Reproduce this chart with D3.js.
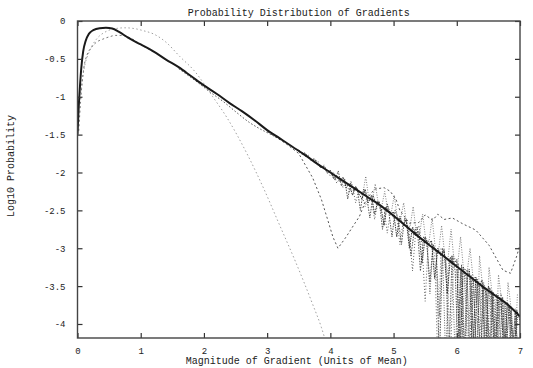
<!DOCTYPE html>
<html>
<head>
<meta charset="utf-8">
<script src="https://cdn.jsdelivr.net/npm/d3@7"></script>
<style>
  body { margin: 0; background: #fff; }
  svg { display: block; }
  text { font-family: "Liberation Mono", "DejaVu Sans Mono", monospace; fill: #222; }
</style>
</head>
<body>
<svg id="chart" width="533" height="368"></svg>
<script>
// values (log10 probability vs gradient magnitude)
const mainX = [0, 0.01, 0.02, 0.03, 0.04, 0.06, 0.09, 0.13, 0.18, 0.25, 0.35, 0.45, 0.55, 0.65, 0.8, 1.0, 1.2, 1.4, 1.6, 1.8, 2.0, 2.2, 2.4, 2.6, 2.8, 3.0, 3.2, 3.4, 3.6, 3.8, 4.0, 4.2, 4.4, 4.6, 4.8, 5.0, 5.2, 5.4, 5.6, 5.8, 6.0, 6.2, 6.4, 6.6, 6.8, 7.0];
const mainY = [-1.5, -1.3, -1.12, -0.98, -0.85, -0.62, -0.4, -0.26, -0.17, -0.12, -0.095, -0.09, -0.1, -0.14, -0.22, -0.31, -0.4, -0.51, -0.61, -0.73, -0.85, -0.96, -1.08, -1.19, -1.31, -1.44, -1.55, -1.66, -1.77, -1.89, -2.0, -2.11, -2.22, -2.33, -2.44, -2.57, -2.71, -2.85, -2.98, -3.11, -3.24, -3.37, -3.5, -3.62, -3.74, -3.9];

// early curve, sits under the peak
const earlyX = [0.02, 0.05, 0.1, 0.15, 0.22, 0.3, 0.4, 0.5, 0.6, 0.7, 0.85, 1.0, 1.2];
const earlyY = [-1.45, -1.05, -0.62, -0.45, -0.35, -0.28, -0.24, -0.21, -0.19, -0.19, -0.23, -0.31, -0.41];

// curve dipping a little below the main one between 2 and 3
const dipX = [1.6, 1.9, 2.1, 2.3, 2.52, 2.72, 2.9, 3.04, 3.2];
const dipY = [-0.63, -0.81, -0.94, -1.06, -1.21, -1.34, -1.43, -1.49, -1.56];

// light gaussian-like curve
const gaussX = [0.05, 0.1, 0.2, 0.3, 0.45, 0.6, 0.75, 0.9, 1.05, 1.2, 1.4, 1.62, 1.85, 2.14, 2.36, 2.68, 2.95, 3.2, 3.45, 3.72, 3.86, 3.95];
const gaussY = [-0.95, -0.65, -0.38, -0.24, -0.14, -0.1, -0.09, -0.1, -0.13, -0.17, -0.28, -0.47, -0.66, -1.0, -1.27, -1.75, -2.22, -2.7, -3.18, -3.74, -4.05, -4.3];

// curve that drops near 4 and swings back up
const swingX = [3.0, 3.3, 3.5, 3.72, 3.86, 3.96, 4.04, 4.12, 4.25, 4.35, 4.46, 4.57, 4.7, 4.85, 4.95, 5.04, 5.1, 5.25, 5.4, 5.5, 5.62, 5.7, 5.8, 5.93, 6.1, 6.3, 6.51, 6.73, 6.85, 6.95, 7.0];
const swingY = [-1.46, -1.62, -1.75, -2.07, -2.36, -2.63, -2.85, -3.0, -2.85, -2.72, -2.58, -2.35, -2.22, -2.2, -2.25, -2.36, -2.5, -2.67, -2.66, -2.56, -2.63, -2.55, -2.62, -2.6, -2.68, -2.76, -2.96, -3.29, -3.33, -3.1, -2.95];

// noisy tails, sampled every 0.05 from 3.5
const noisyStart = 3.5;
const noisyA = [-1.7, -1.76, -1.74, -1.8, -1.83, -1.82, -1.9, -1.93, -1.92, -2.01, -1.97, -2.08, -2.05, -2.12, -2.06, -2.2, -2.15, -2.3, -2.18, -2.28, -2.35, -2.22, -2.4, -2.3, -2.55, -2.38, -2.46, -2.7, -2.42, -2.55, -2.52, -2.85, -2.58, -2.7, -2.62, -3.0, -2.72, -2.8, -2.78, -3.2, -2.85, -2.95, -2.9, -3.4, -3.0, -3.1, -3.02, -3.6, -3.12, -3.2, -3.15, -4.5, -3.25, -3.3, -3.28, -4.5, -3.38, -3.5, -3.42, -4.5, -3.5, -3.6, -4.5, -3.62, -3.7, -4.5, -3.72, -3.85, -4.5, -3.82, -3.95];
const noisyB = [-1.74, -1.73, -1.79, -1.77, -1.85, -1.86, -1.84, -1.95, -1.9, -1.98, -2.05, -1.99, -2.14, -2.08, -2.2, -2.12, -2.26, -2.18, -2.4, -2.24, -2.3, -2.45, -2.33, -2.36, -2.62, -2.4, -2.5, -2.48, -2.8, -2.52, -2.6, -2.58, -2.95, -2.66, -2.62, -2.8, -3.3, -2.78, -2.7, -2.95, -3.7, -2.9, -2.92, -3.1, -4.5, -3.0, -3.05, -3.3, -4.5, -3.1, -3.2, -4.5, -3.25, -3.4, -4.5, -3.35, -3.42, -4.5, -3.48, -3.5, -4.5, -3.55, -3.7, -4.5, -3.6, -4.5, -3.72, -3.8, -4.5, -3.85, -3.9];
// offset by half a step, from 5.525
const noisyCStart = 5.525;
const noisyC = [-2.9, -3.6, -2.95, -3.05, -3.9, -3.05, -4.5, -3.15, -3.1, -4.5, -3.2, -4.5, -3.3, -4.5, -3.35, -4.5, -3.4, -4.5, -3.45, -4.5, -3.52, -4.5, -3.6, -4.5, -3.65, -4.5, -3.75, -4.5, -3.8, -4.5];
// from 4.025
const noisyDStart = 4.025;
const noisyD = [-2.02, -2.1, -1.98, -2.18, -2.08, -2.35, -2.12, -2.25, -2.2, -2.5, -2.22, -2.32, -2.6, -2.3, -2.42, -2.38, -2.75, -2.45, -2.52, -2.85, -2.5, -2.62, -2.95, -2.6, -2.72, -3.1, -2.78, -2.72, -3.3, -2.85, -2.92, -3.45, -2.95, -3.05, -4.5, -3.0, -3.15, -4.5, -3.1, -3.3, -4.5, -3.22, -4.5, -3.3, -3.42, -4.5, -3.45, -4.5, -3.5, -3.62, -4.5, -3.58, -4.5, -3.7, -3.65, -4.5, -3.78, -4.5, -3.85, -4.5];
// from 4.51, mostly spikes upward
const noisyEStart = 4.51;
const noisyE = [-2.3, -2.05, -2.36, -2.38, -2.15, -2.42, -2.46, -2.25, -2.5, -2.55, -2.3, -2.6, -2.62, -2.4, -2.7, -2.72, -2.45, -2.8, -2.82, -2.55, -2.9, -2.92, -2.6, -3.0, -3.05, -2.7, -3.1, -3.15, -2.75, -3.2, -3.25, -2.85, -3.32, -3.35, -3.0, -3.42, -4.5, -3.1, -3.52, -4.5, -3.25, -3.6, -4.5, -3.35, -3.7, -4.5, -3.45, -3.8, -4.5, -3.6];
// dense spikes near the right edge, from 6.0125
const noisyFStart = 6.0125;
const noisyF = [-4.5, -3.3, -4.5, -3.35, -4.5, -3.4, -4.5, -3.5, -4.5, -3.55, -4.5, -3.6, -4.5, -3.68, -4.5, -3.72, -4.5, -3.8, -4.5, -3.88];

const xTicks = [0, 1, 2, 3, 4, 5, 6, 7];
const yTicks = [0, -0.5, -1, -1.5, -2, -2.5, -3, -3.5, -4];

const plotLeft = 77.5, plotRight = 520, plotTop = 21, plotBottom = 338;
const svg = d3.select('#chart');

const x = d3.scaleLinear().domain([0, 7]).range([plotLeft, plotRight]);
const y = d3.scaleLinear().domain([-4.185, 0]).range([plotBottom, plotTop]);

svg.append('defs').append('clipPath').attr('id', 'plot')
  .append('rect').attr('x', plotLeft).attr('y', plotTop)
  .attr('width', plotRight - plotLeft).attr('height', plotBottom - plotTop);

const zip = (xs, ys) => ys.map((v, i) => [xs[i], v]);
const stepped = (start, ys) => ys.map((v, i) => [start + i * 0.05, v]);

const line = d3.line().x(d => x(d[0])).y(d => y(d[1]));
const curvy = d3.line().x(d => x(d[0])).y(d => y(d[1])).curve(d3.curveMonotoneX);

const g = svg.append('g').attr('clip-path', 'url(#plot)');

const addPath = (data, gen, color, width, dash) =>
  g.append('path').datum(data).attr('d', gen)
    .attr('fill', 'none').attr('stroke', color).attr('stroke-width', width).attr('stroke-dasharray', dash);

// light gaussian first so the rest sits on top
addPath(zip(gaussX, gaussY), curvy, '#a0a0a0', 1, '1.5,2.5');

addPath(stepped(noisyFStart, noisyF), line, '#444', 0.9, '1,1');
addPath(stepped(noisyEStart, noisyE), line, '#666', 0.8, '1,1.5');
addPath(stepped(noisyCStart, noisyC), line, '#555', 0.9, '1,1.5');
addPath(stepped(noisyDStart, noisyD), line, '#444', 0.9, '1.5,1.2');
addPath(stepped(noisyStart, noisyB), line, '#555', 0.9, '1,2');
addPath(stepped(noisyStart, noisyA), line, '#333', 1, '1.5,1');

addPath(zip(swingX, swingY), line, '#555', 1, '2,2.5');
addPath(zip(dipX, dipY), curvy, '#555', 1, '1.5,2');
addPath(zip(earlyX, earlyY), curvy, '#777', 1, '2,2.5');

addPath(zip(mainX, mainY), curvy, '#1a1a1a', 2, null);

// frame with inward ticks on all four sides, gnuplot style
const fmt = d => String(d);
const axisStyle = sel => {
  sel.select('.domain').remove();
  sel.selectAll('line').attr('stroke', '#333').attr('stroke-width', 1.2);
  sel.selectAll('text').attr('font-size', 9).attr('font-family', '"Liberation Mono", monospace').attr('fill', '#333');
};

svg.append('g').attr('transform', `translate(0,${plotBottom})`)
  .call(d3.axisBottom(x).tickValues(xTicks).tickFormat(fmt).tickSizeInner(-5).tickPadding(10))
  .call(axisStyle);
svg.append('g').attr('transform', `translate(0,${plotTop})`)
  .call(d3.axisTop(x).tickValues(xTicks).tickFormat('').tickSizeInner(-5))
  .call(axisStyle);
svg.append('g').attr('transform', `translate(${plotLeft},0)`)
  .call(d3.axisLeft(y).tickValues(yTicks).tickFormat(fmt).tickSizeInner(-5).tickPadding(12))
  .call(axisStyle);
svg.append('g').attr('transform', `translate(${plotRight},0)`)
  .call(d3.axisRight(y).tickValues(yTicks).tickFormat('').tickSizeInner(-5))
  .call(axisStyle);

svg.append('rect').attr('x', plotLeft).attr('y', plotTop)
  .attr('width', plotRight - plotLeft).attr('height', plotBottom - plotTop)
  .attr('fill', 'none').attr('stroke', '#444').attr('stroke-width', 1.4);

svg.append('text').attr('x', (plotLeft + plotRight) / 2).attr('y', 16).attr('text-anchor', 'middle')
  .attr('font-size', 10).text('Probability Distribution of Gradients');
svg.append('text').attr('x', (plotLeft + plotRight) / 2 - 2).attr('y', 364).attr('text-anchor', 'middle')
  .attr('font-size', 10).text('Magnitude of Gradient (Units of Mean)');
svg.append('text').attr('transform', 'translate(14,166) rotate(-90)').attr('text-anchor', 'middle')
  .attr('font-size', 10).text('Log10 Probability');
</script>
</body>
</html>
